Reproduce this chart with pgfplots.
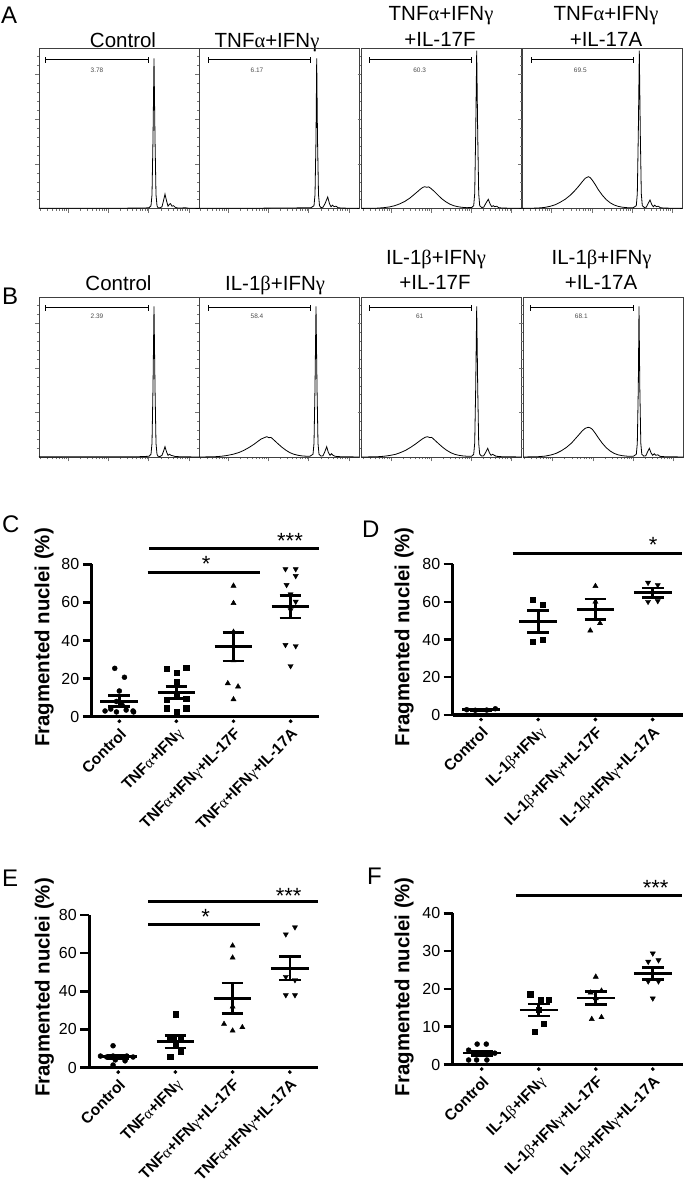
\documentclass[border=0pt]{standalone}
\usepackage{fontspec}
\setmainfont{Liberation Sans}
\newfontfamily\serf{Liberation Serif}
\usepackage{pgfplots}
\pgfplotsset{compat=1.18}
\newcommand{\gal}{{\serf\mdseries α}}
\newcommand{\gam}{{\serf\mdseries γ}}
\newcommand{\gbe}{{\serf\mdseries β}}
\pgfplotsset{
 hist/.style={width=160pt,height=160pt,scale only axis,xmin=0,xmax=160,ymin=0,ymax=160,
  axis line style={black!75,line width=0.9pt},
  xtick={29.3,69.5,109.7,149.9},
  minor xtick={1.1,8.2,13.2,17.1,20.3,23.0,25.3,27.4,41.4,48.5,53.5,57.4,60.6,63.3,65.6,67.7,81.6,88.7,93.7,97.6,100.8,103.5,105.8,107.9,121.8,128.9,133.9,137.8,141.0,143.7,146.0,148.1},
  ytick={44.7,89.4,134.1},
  minor ytick={8.94,17.9,26.8,35.8,53.6,62.6,71.5,80.5,98.3,107.3,116.2,125.2,143.0,152.0},
  xticklabels={,,,},yticklabels={,,},tick pos=left,tick align=outside,
  major tick length=4pt,minor tick length=2pt,
  every tick/.style={black!55,line width=0.5pt}},
 histline/.style={black,line width=0.8pt,no marks},
 gate/.style={black,line width=1pt,no marks,unbounded coords=jump},
 sc/.style={scale only axis,axis lines*=left,axis line style={line width=3.3pt,-},
  tick align=outside,major tick length=9pt,clip=false,
  ytick style={line width=2.5pt,black},xtick={0,1,2,3},xtick style={draw=none},
  /pgf/number format/assume math mode=true,
  yticklabel style={font=\fontsize{16}{18}\selectfont},
  xticklabel style={font=\bfseries\fontsize{15.5}{17}\selectfont,rotate=45,anchor=north east,inner sep=1pt},
  ylabel={Fragmented nuclei (\%)}},
 ylab/.style 2 args={every axis y label/.style={at={(axis description cs:#1,#2)},anchor=center,rotate=90,font=\bfseries\fontsize{20.4}{22}\selectfont}},
 msem/.style={black,line width=2.6pt,no marks,unbounded coords=jump},
 sig/.style={black,line width=3pt,no marks,unbounded coords=jump},
 dots/.style={only marks,mark=*,mark size=2.5pt,black},
 sqs/.style={only marks,mark=square*,mark size=2.6pt,black},
 tri/.style={only marks,mark=triangle*,mark size=3pt,black},
 itri/.style={only marks,mark=triangle*,mark size=3pt,black,mark options={rotate=180}},
}
\begin{document}
\begin{tikzpicture}
\path[use as bounding box] (0pt,0pt) rectangle (685pt,1198pt);
% ---------- panel letters
\begin{scope}[every node/.style={anchor=base west,inner sep=0pt,font=\fontsize{24}{24}\selectfont}]
\node at (1pt,1174pt) {A};
\node at (2pt,893pt) {B};
\node at (2pt,665pt) {C};
\node at (362pt,660pt) {D};
\node at (2pt,311pt) {E};
\node at (367pt,313pt) {F};
\end{scope}
% ---------- titles
\begin{scope}[every node/.style={anchor=base,inner sep=0pt,font=\fontsize{20.5}{22}\selectfont}]
\node at (123pt,1150.3pt) {Control};
\node at (267pt,1150.3pt) {TNF\gal+IFN\gam};
\node at (441pt,1177.3pt) {TNF\gal+IFN\gam};
\node at (440pt,1151.3pt) {+IL-17F};
\node at (606pt,1177.3pt) {TNF\gal+IFN\gam};
\node at (606pt,1151.3pt) {+IL-17A};
\node at (118.5pt,907pt) {Control};
\node at (275pt,907pt) {IL-1\gbe+IFN\gam};
\node at (436pt,933pt) {IL-1\gbe+IFN\gam};
\node at (435pt,908pt) {+IL-17F};
\node at (601.5pt,933pt) {IL-1\gbe+IFN\gam};
\node at (601pt,908pt) {+IL-17A};
\end{scope}
% ---------- row A histograms
\begin{axis}[hist,at={(39pt,989.3pt)},anchor=south west]
\addplot[histline] coordinates {(0,0.4)(40,0.4)(80,0.5)(105,0.6)(110,1)(112,3)(113,14)(114,70)(115,150.4)(116,70)(117,14)(118,3)(119,1)(121,0.8)(123,2)(124.5,8)(126,14.5)(127.5,8)(129,2.5)(130.5,4.5)(131.5,5)(133,2.5)(134.5,3)(136,1.5)(138,0.8)(142,0.6)(146,1)(150,0.4)(160,0.3)};
\addplot[gate] coordinates {(7,148.7)(109.3,148.7)(0,nan)(7,145.7)(7,151.7)(0,nan)(109.3,145.7)(109.3,151.7)};
\node[font=\fontsize{6.5}{7}\selectfont,text=black!70,inner sep=0pt] at (axis cs:58,138.7) {3.78};
\end{axis}
\begin{axis}[hist,at={(199pt,989.3pt)},anchor=south west]
\addplot[histline] coordinates {(0,0.4)(60,0.5)(100,0.8)(112,1)(115,3)(116,14)(117,70)(117.7,150.4)(118.5,70)(119.5,14)(120.5,3)(122,1)(124,1.5)(126,5)(128.7,11.7)(130.5,5)(132,2)(133.5,3.5)(135,2)(137,2.5)(139,1)(143,0.6)(160,0.3)};
\addplot[gate] coordinates {(9.3,148.7)(111,148.7)(0,nan)(9.3,145.7)(9.3,151.7)(0,nan)(111,145.7)(111,151.7)};
\node[font=\fontsize{6.5}{7}\selectfont,text=black!70,inner sep=0pt] at (axis cs:58,138.7) {6.17};
\end{axis}
\begin{axis}[hist,at={(361.7pt,989.3pt)},anchor=south west]
\addplot[histline] coordinates {(0,0.3)(15,0.5)(22,1)(28,1.8)(33,3)(38,4.8)(43,7.2)(48,10.5)(52,13.8)(56,17.2)(59,19.8)(61,21.2)(63,22)(65,21.4)(67,21.8)(69,20.4)(72,17.8)(76,13.8)(80,10)(84,7)(88,4.6)(92,3)(96,2)(100,1.4)(105,1)(110,1.2)(112,3)(113,15)(114,75)(115,158)(116,75)(117,15)(118,3)(120,1.2)(122,1.5)(124.5,6)(126.6,9.4)(128.5,4.5)(130,2)(131.5,3)(133,2)(135,2.5)(137,1)(141,0.6)(160,0.3)};
\addplot[gate] coordinates {(8,148.7)(110,148.7)(0,nan)(8,145.7)(8,151.7)(0,nan)(110,145.7)(110,151.7)};
\node[font=\fontsize{6.5}{7}\selectfont,text=black!70,inner sep=0pt] at (axis cs:58,138.7) {60.3};
\end{axis}
\begin{axis}[hist,at={(522.3pt,989.3pt)},anchor=south west]
\addplot[histline] coordinates {(0,0.3)(15,0.6)(22,1.2)(28,2.4)(33,4)(38,6.5)(43,9.5)(48,13.5)(52,17.5)(56,22)(60,27)(63,30.5)(66,32)(68,31)(70,28.5)(73,24)(76,19)(80,13.5)(84,9)(88,5.8)(92,3.6)(96,2.3)(100,1.5)(105,1)(111,1)(114,3)(115,15)(116,75)(117,158)(118,75)(119,15)(120,3)(122,1.2)(124,1.5)(126,5.5)(127.7,8.7)(129.5,4)(131,2)(132.5,3.5)(134,2)(136,2.5)(138,1)(142,0.6)(160,0.3)};
\addplot[gate] coordinates {(9.4,148.7)(111,148.7)(0,nan)(9.4,145.7)(9.4,151.7)(0,nan)(111,145.7)(111,151.7)};
\node[font=\fontsize{6.5}{7}\selectfont,text=black!70,inner sep=0pt] at (axis cs:58,138.7) {69.5};
\end{axis}
% ---------- row B histograms
\begin{axis}[hist,at={(39pt,740.7pt)},anchor=south west]
\addplot[histline] coordinates {(0,0.4)(60,0.5)(100,0.6)(110,1)(112,3)(113,14)(114,70)(115,151)(116,70)(117,14)(118,3)(119,1)(121,0.8)(123,2)(124.5,6)(126,10.6)(127.5,5.5)(129,2)(130.5,3)(132,2)(134,1.5)(136,0.8)(142,0.5)(160,0.3)};
\addplot[gate] coordinates {(6.7,149.6)(109.3,149.6)(0,nan)(6.7,146.6)(6.7,152.6)(0,nan)(109.3,146.6)(109.3,152.6)};
\node[font=\fontsize{6.5}{7}\selectfont,text=black!70,inner sep=0pt] at (axis cs:58,140.6) {2.39};
\end{axis}
\begin{axis}[hist,at={(199pt,740.7pt)},anchor=south west]
\addplot[histline] coordinates {(0,0.3)(15,0.5)(22,1)(28,1.8)(34,3)(40,4.8)(45,7)(50,9.8)(55,13)(59,16)(62,18.2)(65,19.5)(67.7,20.6)(70,19.6)(72,19.9)(75,17.2)(79,13.5)(83,10)(87,7)(91,4.6)(95,3)(99,2)(103,1.4)(108,1)(111,1.1)(114,3)(115,14)(116,70)(117,151)(118,70)(119,14)(120,3)(122,1.2)(124,1.5)(126,6)(127.7,10.6)(129.3,5)(131,2)(132.5,3.5)(134,2)(136,1)(141,0.6)(160,0.3)};
\addplot[gate] coordinates {(9.3,149.6)(111,149.6)(0,nan)(9.3,146.6)(9.3,152.6)(0,nan)(111,146.6)(111,152.6)};
\node[font=\fontsize{6.5}{7}\selectfont,text=black!70,inner sep=0pt] at (axis cs:58,140.6) {58.4};
\end{axis}
\begin{axis}[hist,at={(361.7pt,740.7pt)},anchor=south west]
\addplot[histline] coordinates {(0,0.3)(15,0.5)(22,1)(28,1.8)(34,3)(39,4.8)(44,7)(49,10)(54,13.4)(58,16.4)(61,18.6)(63.5,20)(65.7,20.6)(68,19.7)(70,19.9)(73,17.2)(77,13.5)(81,10)(85,7)(89,4.6)(93,3)(97,2)(101,1.4)(106,1)(110,1.1)(112,3)(113,14)(114,70)(115,151)(116,70)(117,14)(118,3)(120,1.2)(122,1.5)(124.3,5.5)(126,9)(127.7,4.5)(129.3,2)(131,3)(132.5,2)(134.5,1)(140,0.6)(160,0.3)};
\addplot[gate] coordinates {(7.7,149.6)(109.3,149.6)(0,nan)(7.7,146.6)(7.7,152.6)(0,nan)(109.3,146.6)(109.3,152.6)};
\node[font=\fontsize{6.5}{7}\selectfont,text=black!70,inner sep=0pt] at (axis cs:58,140.6) {61};
\end{axis}
\begin{axis}[hist,at={(523.3pt,740.7pt)},anchor=south west]
\addplot[histline] coordinates {(0,0.3)(15,0.6)(22,1.2)(28,2.4)(33,4)(38,6.5)(43,9.8)(48,14)(52,18.5)(56,23)(59,26.5)(62,29)(65,30)(67,29.4)(69,28)(72,24)(75,19.5)(79,14)(83,9.5)(87,6.2)(91,3.8)(95,2.4)(99,1.6)(104,1.1)(110,1)(113,3)(114,14)(115,70)(115.7,151)(116.5,70)(117.5,14)(118.5,3)(120.5,1.2)(122.5,1.5)(124.3,5.5)(126,9)(127.7,4.5)(129.3,2)(131,3.5)(132.5,2)(134.5,2.5)(136.5,1)(141,0.6)(160,0.3)};
\addplot[gate] coordinates {(7.3,149.6)(110,149.6)(0,nan)(7.3,146.6)(7.3,152.6)(0,nan)(110,146.6)(110,152.6)};
\node[font=\fontsize{6.5}{7}\selectfont,text=black!70,inner sep=0pt] at (axis cs:58,140.6) {68.1};
\end{axis}
% ---------- panel C
\begin{axis}[sc,at={(91.8pt,481.3pt)},anchor=south west,width=227.5pt,height=152.4pt,
 xmin=-0.482,xmax=3.503,ymin=0,ymax=80,ytick={0,20,40,60,80},ylab={-0.21}{0.52},
 xticklabels={Control,TNF\gal+IFN\gam,TNF\gal+IFN\gam+IL-17F,TNF\gal+IFN\gam+IL-17A}]
\addplot[only marks,mark=*,mark size=1.7pt,black] coordinates {(0,-2.4)(1,-2.4)(2,-2.4)(3,-2.4)};
\addplot[dots] coordinates {(-0.08,25.4)(0.09,20.7)(0,13.5)(-0.05,8)(0.05,6)(-0.15,4)(0.12,3.5)(-0.25,3)(0.25,2.5)(-0.05,2.5)(0.24,3)};
\addplot[sqs] coordinates {(0.83,25.2)(1,23.3)(1.17,25.6)(1,18.2)(1,10.5)(0.83,9)(1.17,9.5)(0.83,4.5)(1,2.8)(1.17,4.5)};
\addplot[tri] coordinates {(2,68.7)(2,59.6)(2,44.5)(2,29.5)(1.9,17.5)(2.08,15.8)(2,9.1)};
\addplot[itri] coordinates {(2.91,77.5)(3.09,77.5)(3.09,73.9)(2.93,69.2)(3,64.3)(3.09,60.4)(3,56)(2.91,37.7)(3.09,37.1)(3,26.6)};
\addplot[msem] coordinates {(-0.33,8.1)(0.33,8.1)(0,nan)(-0.19,11)(0.19,11)(0,nan)(-0.19,5.2)(0.19,5.2)(0,nan)(0,5.2)(0,11)(0,nan)
 (0.67,12.8)(1.33,12.8)(0,nan)(0.81,15.9)(1.19,15.9)(0,nan)(0.81,9.7)(1.19,9.7)(0,nan)(1,9.7)(1,15.9)(0,nan)
 (1.67,36.8)(2.33,36.8)(0,nan)(1.81,44.3)(2.19,44.3)(0,nan)(1.81,29.3)(2.19,29.3)(0,nan)(2,29.3)(2,44.3)(0,nan)
 (2.67,57.8)(3.33,57.8)(0,nan)(2.81,63.7)(3.19,63.7)(0,nan)(2.81,51.9)(3.19,51.9)(0,nan)(3,51.9)(3,63.7)};
\addplot[sig] coordinates {(0.525,88.5)(3.5,88.5)(0,nan)(0.497,75.9)(2.46,75.9)};
\node[anchor=north,inner sep=0pt,font=\fontsize{22}{22}\selectfont] at (axis cs:2.99,96.4) {***};
\node[anchor=north,inner sep=0pt,font=\fontsize{22}{22}\selectfont] at (axis cs:1.52,84.1) {*};
\end{axis}
% ---------- panel D
\begin{axis}[sc,at={(452.7pt,483pt)},anchor=south west,width=230.3pt,height=151pt,
 xmin=-0.495,xmax=3.531,ymin=0,ymax=80,ytick={0,20,40,60,80},ylab={-0.211}{0.519},
 xticklabels={Control,IL-1\gbe+IFN\gam,IL-1\gbe+IFN\gam+IL-17F,IL-1\gbe+IFN\gam+IL-17A}]
\addplot[only marks,mark=*,mark size=1.7pt,black] coordinates {(0,-2.4)(1,-2.4)(2,-2.4)(3,-2.4)};
\addplot[dots] coordinates {(-0.25,2.8)(-0.1,2.5)(0.1,2.6)(0.25,3.3)};
\addplot[sqs] coordinates {(0.91,60.9)(1.08,58.3)(0.91,38.8)(1.08,40.1)};
\addplot[tri] coordinates {(2,68.3)(2,60)(2.08,48.6)(1.91,44.7)};
\addplot[itri] coordinates {(2.92,70.1)(3.09,68.9)(2.92,60)(3.09,60.4)};
\addplot[msem] coordinates {(-0.33,2.8)(0.33,2.8)(0,nan)(-0.19,3.1)(0.19,3.1)(0,nan)(-0.19,2.5)(0.19,2.5)(0,nan)
 (0.67,49.5)(1.33,49.5)(0,nan)(0.81,55.3)(1.19,55.3)(0,nan)(0.81,43.7)(1.19,43.7)(0,nan)(1,43.7)(1,55.3)(0,nan)
 (1.67,56)(2.33,56)(0,nan)(1.81,61.5)(2.19,61.5)(0,nan)(1.81,50.5)(2.19,50.5)(0,nan)(2,50.5)(2,61.5)(0,nan)
 (2.67,64.8)(3.33,64.8)(0,nan)(2.81,67.2)(3.19,67.2)(0,nan)(2.81,62.4)(3.19,62.4)(0,nan)(3,62.4)(3,67.2)};
\addplot[sig] coordinates {(0.554,85.3)(3.51,85.3)};
\node[anchor=north,inner sep=0pt,font=\fontsize{22}{22}\selectfont] at (axis cs:3.01,94.1) {*};
\end{axis}
% ---------- panel E
\begin{axis}[sc,at={(89.2pt,130.5pt)},anchor=south west,width=229.1pt,height=152.5pt,
 xmin=-0.507,xmax=3.498,ymin=0,ymax=80,ytick={0,20,40,60,80},ylab={-0.196}{0.525},
 xticklabels={Control,TNF\gal+IFN\gam,TNF\gal+IFN\gam+IL-17F,TNF\gal+IFN\gam+IL-17A}]
\addplot[only marks,mark=*,mark size=1.7pt,black] coordinates {(0,-2.4)(1,-2.4)(2,-2.4)(3,-2.4)};
\addplot[dots] coordinates {(-0.09,11.4)(-0.31,6)(-0.2,5.5)(-0.09,6)(0.02,5.5)(0.15,6)(0.26,5.5)(-0.05,4)(0.12,3.5)(-0.09,1.3)};
\addplot[sqs] coordinates {(1,28)(0.91,14.5)(1.09,14.8)(1,12)(1.09,8.3)(0.91,5.5)};
\addplot[tri] coordinates {(2,63.9)(2,57.6)(2,31.9)(1.85,22.8)(2,19.3)(2.17,21.1)};
\addplot[itri] coordinates {(2.93,69.9)(3.09,73.6)(2.93,47.6)(3.09,45.9)(2.93,38)(3.09,38)};
\addplot[msem] coordinates {(-0.33,5.7)(0.33,5.7)(0,nan)(-0.19,6.6)(0.19,6.6)(0,nan)(-0.19,4.8)(0.19,4.8)(0,nan)(0,4.8)(0,6.6)(0,nan)
 (0.67,13.5)(1.33,13.5)(0,nan)(0.81,16.7)(1.19,16.7)(0,nan)(0.81,10.3)(1.19,10.3)(0,nan)(1,10.3)(1,16.7)(0,nan)
 (1.67,36.3)(2.33,36.3)(0,nan)(1.81,44.3)(2.19,44.3)(0,nan)(1.81,28.3)(2.19,28.3)(0,nan)(2,28.3)(2,44.3)(0,nan)
 (2.67,52)(3.33,52)(0,nan)(2.81,58.1)(3.19,58.1)(0,nan)(2.81,45.9)(3.19,45.9)(0,nan)(3,45.9)(3,58.1)};
\addplot[sig] coordinates {(0.524,87)(3.49,87)(0,nan)(0.524,75.1)(2.48,75.1)};
\node[anchor=north,inner sep=0pt,font=\fontsize{22}{22}\selectfont] at (axis cs:2.98,94) {***};
\node[anchor=north,inner sep=0pt,font=\fontsize{22}{22}\selectfont] at (axis cs:1.53,83) {*};
\end{axis}
% ---------- panel F
\begin{axis}[sc,at={(452.7pt,133.5pt)},anchor=south west,width=230.3pt,height=151.2pt,
 xmin=-0.509,xmax=3.53,ymin=0,ymax=40,ytick={0,10,20,30,40},ylab={-0.211}{0.515},
 xticklabels={Control,IL-1\gbe+IFN\gam,IL-1\gbe+IFN\gam+IL-17F,IL-1\gbe+IFN\gam+IL-17A}]
\addplot[only marks,mark=*,mark size=1.7pt,black] coordinates {(0,-1.2)(1,-1.2)(2,-1.2)(3,-1.2)};
\addplot[dots] coordinates {(-0.08,5.4)(0.08,5.4)(-0.23,3.8)(0.23,3.0)(0,3.0)(-0.23,1.2)(-0.09,1.2)(0.09,1.2)};
\addplot[sqs] coordinates {(0.85,18.6)(1.03,17.1)(1.17,17.2)(1,14.4)(1.09,10.7)(0.93,8.6)};
\addplot[tri] coordinates {(2,23.2)(2.1,19.5)(1.91,19)(2,17.5)(1.93,12)(2.1,12.5)};
\addplot[itri] coordinates {(3,29.4)(3.1,27.6)(2.92,27.2)(2.92,22)(3.1,22)(3,17.5)};
\addplot[msem] coordinates {(-0.33,3)(0.33,3)(0,nan)(-0.19,3.6)(0.19,3.6)(0,nan)(-0.19,2.4)(0.19,2.4)(0,nan)(0,2.4)(0,3.6)(0,nan)
 (0.67,14.4)(1.33,14.4)(0,nan)(0.81,16)(1.19,16)(0,nan)(0.81,12.8)(1.19,12.8)(0,nan)(1,12.8)(1,16)(0,nan)
 (1.67,17.6)(2.33,17.6)(0,nan)(1.81,19.3)(2.19,19.3)(0,nan)(1.81,15.9)(2.19,15.9)(0,nan)(2,15.9)(2,19.3)(0,nan)
 (2.67,24.1)(3.33,24.1)(0,nan)(2.81,25.7)(3.19,25.7)(0,nan)(2.81,22.5)(3.19,22.5)(0,nan)(3,22.5)(3,25.7)};
\addplot[sig] coordinates {(0.6,44.6)(3.52,44.6)};
\node[anchor=north,inner sep=0pt,font=\fontsize{22}{22}\selectfont] at (axis cs:3.05,48.8) {***};
\end{axis}
\end{tikzpicture}
\end{document}
